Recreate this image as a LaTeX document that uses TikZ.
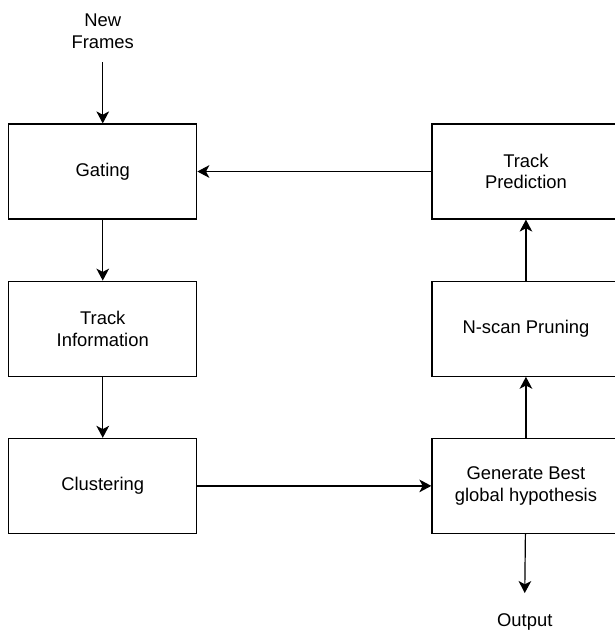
\documentclass[tikz,border=0pt]{standalone}
\usepackage{fontspec}
\setmainfont{Liberation Sans}
\usetikzlibrary{arrows.meta,positioning}

\begin{document}
\begin{tikzpicture}[x=0.75pt,y=-0.75pt, node distance=45.75pt and 175.5pt,
  every node/.style={font=\fontsize{13.8}{16.3}\selectfont},
  block/.style={draw,rectangle,minimum width=141pt,minimum height=71.25pt,align=center,line width=0.9pt},
  flow/.style={-{Stealth[length=9pt,width=9.5pt,inset=2.5pt]},line width=0.9pt}]
\useasboundingbox (0,0) rectangle (615,633);
% left column
\node[block] (gate) at (102.75,171.5) {Gating};
\node[block,below=of gate] (info) {Track\\Information};
\node[block,below=of info] (clust) {Clustering};
% right column
\node[block,right=of gate] (pred) {Track\\Prediction};
\node[block,below=of pred] (prune) {N-scan Pruning};
\node[block,below=of prune] (best) {Generate Best\\global hypothesis};
% input and output
\node[align=center] (frames) at (102.75,31) {New\\Frames};
\coordinate (inTop) at (102.75,62);
\node (output) at (524.75,622) {Output};
\coordinate (outEnd) at (524.75,593);

\draw[flow] (inTop) -- (gate);
\draw[flow] (gate) -- (info);
\draw[flow] (info) -- (clust);
\draw[flow] (clust) -- (best);
\draw[flow] (best) -- (prune);
\draw[flow] (prune) -- (pred);
\draw[flow] (pred) -- (gate);
\draw[flow] (best) -- (outEnd);
\end{tikzpicture}
\end{document}
